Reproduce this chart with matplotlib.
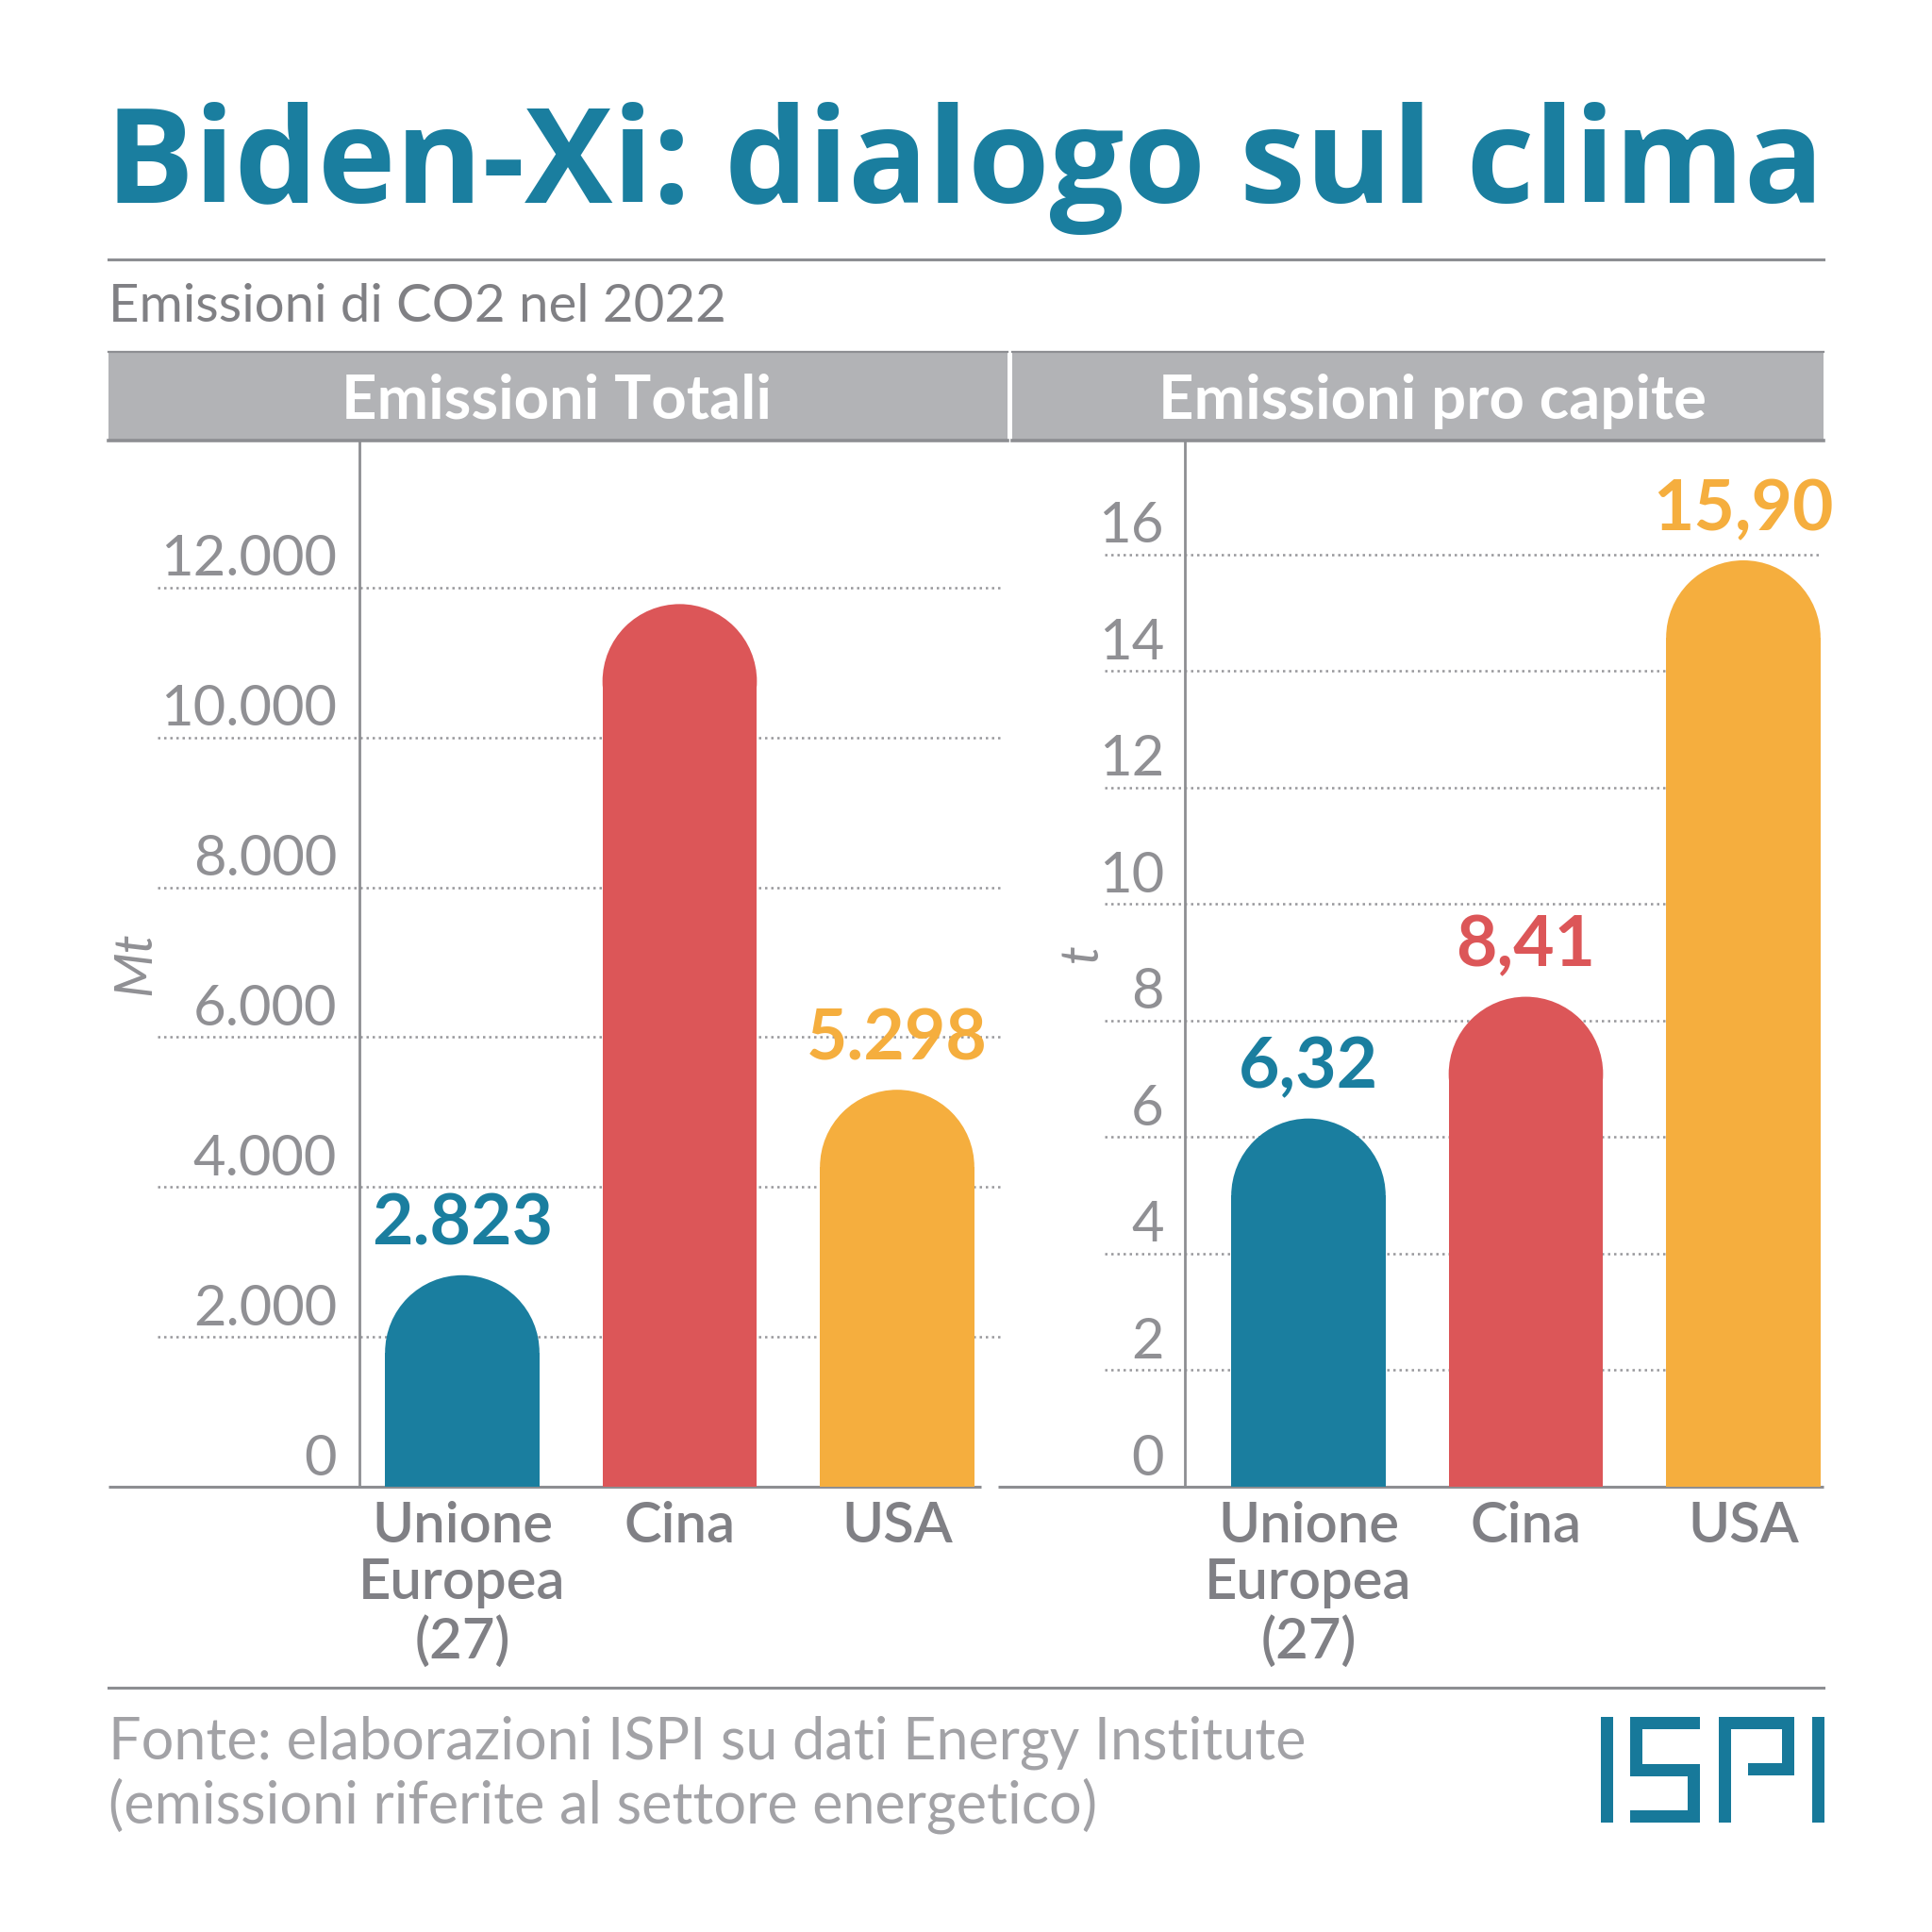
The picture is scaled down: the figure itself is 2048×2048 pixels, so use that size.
import matplotlib
matplotlib.use("Agg")
import matplotlib.pyplot as plt
from matplotlib.patches import Rectangle, Ellipse
from matplotlib.lines import Line2D

# data
categories = ["Unione\nEuropea\n(27)", "Cina", "USA"]
totali_mt = [2823, 11780, 5298]
pro_capite_t = [6.32, 8.41, 15.90]
show_totali_label = [True, False, True]
totali_ticks = [0, 2000, 4000, 6000, 8000, 10000, 12000]
pro_capite_ticks = [0, 2, 4, 6, 8, 10, 12, 14, 16]

title = "Biden-Xi: dialogo sul clima"
subtitle = "Emissioni di CO2 nel 2022"
panel_titles = ["Emissioni Totali", "Emissioni pro capite"]
units = ["Mt", "t"]
source_lines = ["Fonte: elaborazioni ISPI su dati Energy Institute",
                "(emissioni riferite al settore energetico)"]

bar_colors = ["#1a7e9f", "#dc5658", "#f5ae3e"]
TEAL = "#1a7e9f"
TICK_GRAY = "#909094"
LINE_GRAY = "#8d8e92"
BAND_GRAY = "#b2b3b6"

plt.rcParams['font.family'] = ['Lato', 'DejaVu Sans']

W = 2048.0
def fx(px):
    return px / W
def fy(py):
    return 1 - py / W

fig = plt.figure(figsize=(10.24, 10.24), dpi=200)
fig.patch.set_facecolor("white")

# header
fig.text(fx(112), fy(215), title, fontsize=50.3, weight='bold', color=TEAL, va='baseline',
         family=['Open Sans', 'DejaVu Sans'])
fig.add_artist(Line2D([fx(115), fx(1933)], [fy(275), fy(275)], color=LINE_GRAY, lw=1.1))
fig.text(fx(115), fy(341), subtitle, fontsize=20.3, color="#808084", va='baseline')

# panel bands
for x0, x1, txt, cx in [(115, 1068, panel_titles[0], 590), (1073, 1933, panel_titles[1], 1518)]:
    fig.add_artist(Rectangle((fx(x0), fy(468)), fx(x1) - fx(x0), (468 - 372) / W,
                             transform=fig.transFigure, color=BAND_GRAY, lw=0))
    fig.add_artist(Line2D([fx(x0), fx(x1)], [fy(373), fy(373)], color=LINE_GRAY, lw=0.8))
    fig.add_artist(Line2D([fx(x0), fx(x1)], [fy(467), fy(467)], color=LINE_GRAY, lw=1.3))
    fig.text(fx(cx), fy(444), txt, fontsize=23.5, weight='bold', color='white',
             ha='center', va='baseline')


def panel(values, ticks, ymax, fmt, show, unit, geo):
    c0, step = geo['c0'], 230.5
    def xd(px):
        return (px - c0) / step
    ax = fig.add_axes([fx(geo['ax'][0]), fy(1576), fx(geo['ax'][1]) - fx(geo['ax'][0]), (1576 - 468) / W])
    ax.set_xlim(xd(geo['ax'][0]), xd(geo['ax'][1]))
    ax.set_ylim(0, ymax)
    ax.set_axis_off()

    ax.hlines(ticks[1:], xd(geo['grid'][0]), xd(geo['grid'][1]), colors="#98989c",
              linestyles=(0, (1, 1.6)), lw=0.9, zorder=1)
    ax.axvline(xd(geo['yaxis']), color=LINE_GRAY, lw=1.0, zorder=2)
    ax.hlines(0, xd(geo['base'][0]), xd(geo['base'][1]), colors=LINE_GRAY, lw=1.1,
              zorder=2, clip_on=False)

    for t in ticks:
        ax.annotate(fmt(t, True), (xd(geo['tick']), t), xytext=(0, 4.5), textcoords='offset points',
                    ha='right', va='baseline', fontsize=21.5, weight='normal', color=TICK_GRAY)

    ppy = (1576 - 468) / ymax
    bw = 0.71
    r_y = bw * step / 2 / ppy
    xs = list(range(len(values)))
    ax.bar(xs, [v - r_y for v in values], width=bw, color=bar_colors, lw=0, zorder=3)
    for x, v, c, s in zip(xs, values, bar_colors, show):
        ax.add_patch(Ellipse((x, v - r_y), bw, 2 * r_y, color=c, lw=0, zorder=3))
        if s:
            ax.annotate(fmt(v, False), (x, v), xytext=(0, 11.5), textcoords='offset points',
                        ha='center', va='baseline', fontsize=27, weight='bold', color=c)
    for x, lab in zip(xs, categories):
        ax.annotate(lab, (x, 0), xytext=(0, -5.5), textcoords='offset points', ha='center',
                    va='top', fontsize=21.5, weight='semibold', color="#808085",
                    linespacing=1.14, annotation_clip=False)
    fig.text(fx(geo['unit'][0]), fy(geo['unit'][1]), unit, rotation=90, ha='center', va='center',
             fontsize=20, style='italic', color=TICK_GRAY)
    return ax


def fmt_tot(v, tick):
    return f"{v:,}".replace(",", ".")

def fmt_pc(v, tick):
    return f"{v:d}" if tick else f"{v:.2f}".replace(".", ",")

panel(totali_mt, totali_ticks, 13950, fmt_tot, show_totali_label, units[0],
      dict(c0=490, ax=(115, 1064), grid=(167, 1064), yaxis=381, base=(115, 1040), tick=357,
           unit=(144, 1021)))
panel(pro_capite_t, pro_capite_ticks, 17.94, fmt_pc, [True, True, True], units[1],
      dict(c0=1387, ax=(1058, 1933), grid=(1171, 1930), yaxis=1256, base=(1058, 1933), tick=1234,
           unit=(1147, 1010)))

# footer
fig.add_artist(Line2D([fx(115), fx(1933)], [fy(1789), fy(1789)], color=LINE_GRAY, lw=1.1))
for line, base in zip(source_lines, [1865, 1933]):
    fig.text(fx(115), fy(base), line, fontsize=22, weight='normal', color="#a2a2a6",
             va='baseline')

# ISPI logo
logo = [
    (1697, 1820, 1710, 1932),
    (1728, 1820, 1802, 1833), (1728, 1820, 1741, 1883), (1728, 1870, 1802, 1883),
    (1789, 1870, 1802, 1932), (1728, 1919, 1802, 1932),
    (1822, 1820, 1835, 1932), (1822, 1820, 1902, 1833), (1889, 1820, 1902, 1882),
    (1853, 1869, 1902, 1882),
    (1921, 1820, 1934, 1932),
]
for x0, y0, x1, y1 in logo:
    fig.add_artist(Rectangle((fx(x0), fy(y1)), (x1 - x0) / W, (y1 - y0) / W,
                             transform=fig.transFigure, color="#17799a", lw=0))

fig.savefig("out.png", dpi=200, facecolor="white")
